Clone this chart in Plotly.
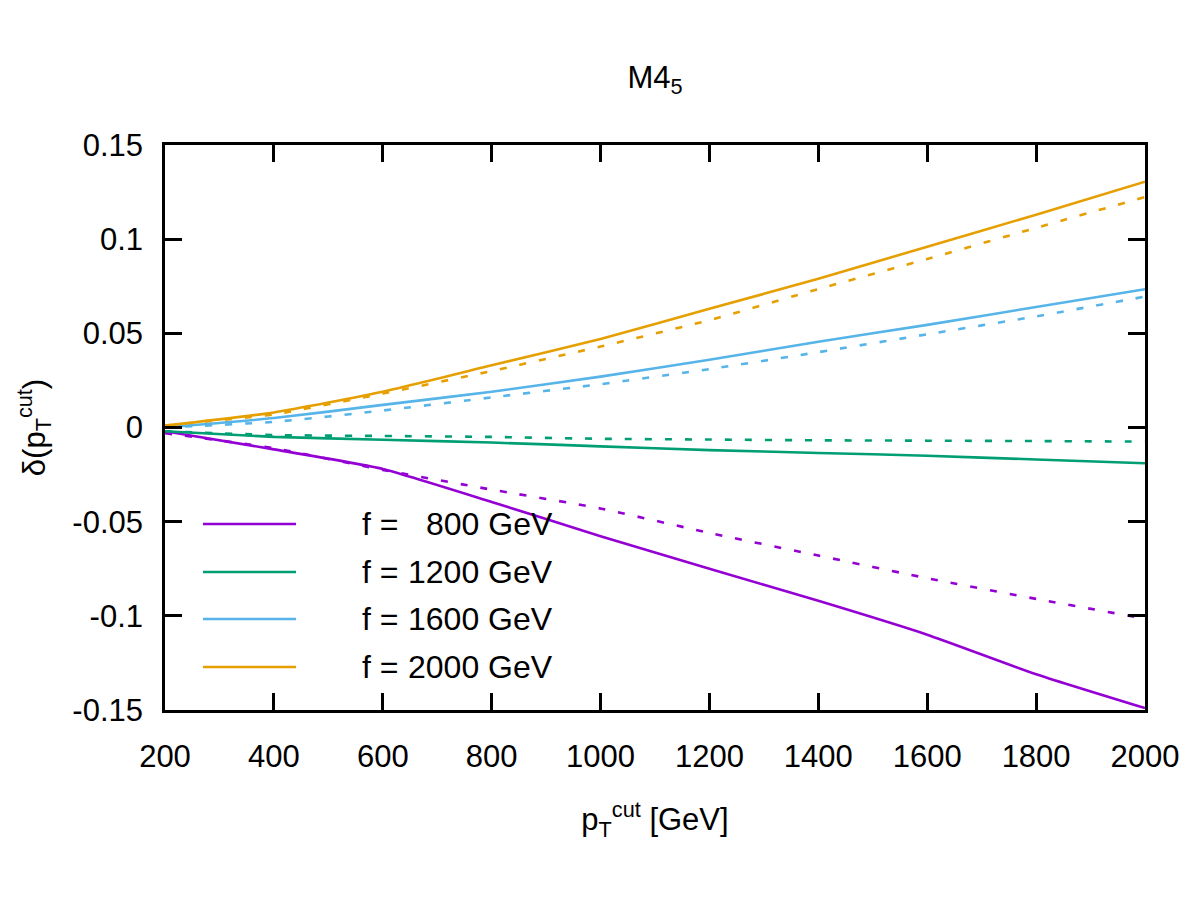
import plotly.graph_objects as go

# ---- data ----
pt_cut = [200, 400, 600, 800, 1000, 1200, 1400, 1600, 1800, 2000]

f800_solid = [-0.002, -0.0116, -0.022, -0.0395, -0.0577, -0.075, -0.092, -0.110, -0.131, -0.149]
f800_dash = [-0.003, -0.011, -0.0225, -0.033, -0.043, -0.056, -0.068, -0.080, -0.091, -0.1015]
f1200_solid = [-0.002, -0.005, -0.0065, -0.008, -0.010, -0.012, -0.0135, -0.015, -0.017, -0.019]
f1200_dash = [-0.002, -0.004, -0.0045, -0.005, -0.006, -0.0064, -0.0068, -0.007, -0.0072, -0.0075]
f1600_solid = [0.000, 0.005, 0.012, 0.019, 0.027, 0.036, 0.0455, 0.0545, 0.064, 0.0734]
f1600_dash = [0.000, 0.003, 0.009, 0.016, 0.023, 0.031, 0.040, 0.0495, 0.059, 0.0695]
f2000_solid = [0.001, 0.008, 0.019, 0.033, 0.047, 0.063, 0.079, 0.096, 0.113, 0.1305]
f2000_dash = [0.001, 0.007, 0.018, 0.030, 0.043, 0.057, 0.0735, 0.0895, 0.106, 0.1224]

legend_labels = ["800 GeV", "1200 GeV", "1600 GeV", "2000 GeV"]
x_ticks = [200, 400, 600, 800, 1000, 1200, 1400, 1600, 1800, 2000]
y_ticks = [-0.15, -0.1, -0.05, 0, 0.05, 0.1, 0.15]
y_ticktext = ["-0.15", "-0.1", "-0.05", "0", "0.05", "0.1", "0.15"]

colors = ["#9400d3", "#009e73", "#56b4e9", "#e69f00"]
solid_series = [f800_solid, f1200_solid, f1600_solid, f2000_solid]
dash_series = [f800_dash, f1200_dash, f1600_dash, f2000_dash]

FONT = "Liberation Sans, Arial, Helvetica, sans-serif"
FS = 31

fig = go.Figure()
for c, yd in zip(colors, dash_series):
    fig.add_trace(go.Scatter(x=pt_cut, y=yd, mode="lines", showlegend=False,
                             line=dict(color=c, width=2.6, dash="7px,13px",
                                       shape="spline", smoothing=0.5)))
for c, ys, lab in zip(colors, solid_series, legend_labels):
    fig.add_trace(go.Scatter(x=pt_cut, y=ys, mode="lines", showlegend=False, name="f = " + lab,
                             line=dict(color=c, width=2.6, shape="spline", smoothing=0.5)))

# ---- manual gnuplot-style legend (bottom left inside the plot) ----
L, R, T, B = 165, 1145, 145, 710
def px(xp):
    return (xp - L) / (R - L)
def py(yp):
    return (B - yp) / (B - T)

LFS = 32
shapes = []
annotations = []
leg_y = [524, 572, 619, 667]
for c, lab, yy in zip(colors, legend_labels, leg_y):
    shapes.append(dict(type="line", xref="paper", yref="paper",
                       x0=px(203), x1=px(296), y0=py(yy), y1=py(yy),
                       line=dict(color=c, width=2.6)))
    annotations.append(dict(xref="paper", yref="paper", x=px(360), y=py(yy),
                            text="f =", showarrow=False, xanchor="left", yanchor="middle",
                            font=dict(family=FONT, size=LFS, color="black")))
    annotations.append(dict(xref="paper", yref="paper", x=px(555), y=py(yy),
                            text=lab, showarrow=False, xanchor="right", yanchor="middle",
                            font=dict(family=FONT, size=LFS, color="black")))

fig.update_layout(
    width=1200, height=900,
    margin=dict(l=L, r=1200 - R, t=T, b=900 - B),
    paper_bgcolor="white", plot_bgcolor="white",
    font=dict(family=FONT, size=FS, color="black"),
    title=dict(text="M4<sub>5</sub>", x=px(655), xref="paper", xanchor="center",
               y=1 - 77 / 900, yanchor="middle", font=dict(family=FONT, size=FS)),
    showlegend=False,
    shapes=shapes,
    annotations=annotations,
)
fig.update_xaxes(range=[200, 2000], tickvals=x_ticks, ticktext=[str(v) for v in x_ticks],
                 ticks="inside", ticklen=17, tickwidth=2.6, tickcolor="black",
                 showline=True, linecolor="black", linewidth=2.6, mirror="ticks",
                 showgrid=False, zeroline=False, ticklabelstandoff=17,
                 tickfont=dict(family=FONT, size=FS),
                 title=dict(text="p<sub>T</sub><sup>cut</sup> [GeV]", standoff=36,
                            font=dict(family=FONT, size=FS)))
fig.update_yaxes(range=[-0.15, 0.15], tickvals=y_ticks, ticktext=y_ticktext,
                 ticks="inside", ticklen=17, tickwidth=2.6, tickcolor="black",
                 showline=True, linecolor="black", linewidth=2.6, mirror="ticks",
                 showgrid=False, zeroline=False, ticklabelstandoff=13,
                 tickfont=dict(family=FONT, size=FS),
                 title=dict(text="δ(p<sub>T</sub><sup>cut</sup>)", standoff=18,
                            font=dict(family=FONT, size=FS)))

fig.write_html("out.html")
